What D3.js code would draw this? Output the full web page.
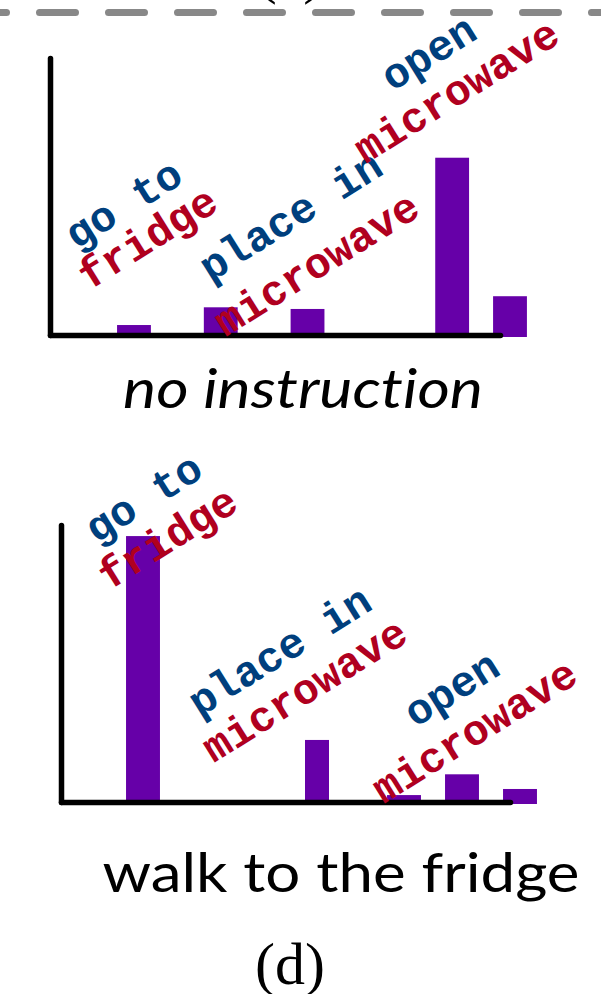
<!DOCTYPE html>
<html>
<head>
<meta charset="utf-8">
<script src="https://cdn.jsdelivr.net/npm/d3@7"></script>
<style>
  html, body { margin: 0; padding: 0; background: #fff; }
  svg { display: block; }
</style>
</head>
<body>
<div id="chart"></div>
<script>
// data
const slotsNoInstr = [3, 6, 9, 14, 16];
const probsNoInstr = [0.036, 0.1, 0.094, 0.64, 0.14];
const slotsFridge = [3, 9, 12, 14, 16];
const probsFridge = [0.96, 0.224, 0.025, 0.1, 0.047];
const actionTop = ['go to', 'place in', 'open'];
const actionBottom = ['fridge', 'microwave', 'microwave'];
const captions = ['no instruction', 'walk to the fridge'];
const panelTags = ['(c)', '(d)'];

const w = 601;
const h = 994;

const blue = '#003f7d';
const red = '#b0001f';
const purple = '#6600a8';

const svg = d3
	.select('#chart')
	.append('svg')
	.attr('width', w)
	.attr('height', h)
	.attr('viewBox', `0 0 ${w} ${h}`);

// separator from the panel above
svg
	.append('line')
	.attr('x1', 0)
	.attr('x2', w)
	.attr('y1', 12.5)
	.attr('y2', 12.5)
	.attr('stroke', '#888')
	.attr('stroke-width', 7)
	.attr('stroke-linecap', 'round')
	.attr('stroke-dasharray', '36 33')
	.attr('stroke-dashoffset', 29.5);

// bottom of the previous panel's tag, mostly above the frame
svg
	.append('text')
	.attr('x', 290)
	.attr('y', -8)
	.attr('text-anchor', 'middle')
	.style('font-family', '"Liberation Serif", serif')
	.style('font-size', '60px')
	.text(panelTags[0]);

const panels = [
	{
		slots: slotsNoInstr,
		probs: probsNoInstr,
		left: 50,
		right: 500,
		top: 58,
		base: 335,
		x0: 47.2,
		x16: 510,
		narrow: -1,
		labels: [
			[123, 203, 147, 237],
			[290, 215, 316, 263],
			[428, 52, 456, 90],
		],
		caption: {x: 303, y: 408, len: 360, italic: true},
	},
	{
		slots: slotsFridge,
		probs: probsFridge,
		left: 61,
		right: 510,
		top: 525,
		base: 802,
		x0: 56,
		x16: 520,
		narrow: 1,
		labels: [
			[143, 497, 167, 537],
			[279, 650, 304, 689],
			[451, 688, 474, 730],
		],
		caption: {x: 341, y: 892, len: 477, italic: false},
	},
];

panels.forEach((p, pi) => {
	const g = svg.append('g');

	const xScale = d3.scaleLinear().domain([0, 16]).range([p.x0, p.x16]);
	const yScale = d3.scaleLinear().domain([0, 1]).range([p.base, p.top]);
	const unit = xScale(1) - xScale(0);
	const barWidth = unit * 1.17;

	g.selectAll('rect')
		.data(p.slots.map((s, i) => ({slot: s, prob: p.probs[i], i})))
		.enter()
		.append('rect')
		.attr('x', d => xScale(d.slot) - (d.i === p.narrow ? 12 : barWidth / 2))
		.attr('width', d => (d.i === p.narrow ? 24 : barWidth))
		.attr('y', d => yScale(d.prob))
		.attr('height', d => yScale(0) - yScale(d.prob) + 2)
		.attr('fill', purple);

	// axes without ticks, thick black lines
	const xAxisScale = d3.scaleLinear().range([p.left, p.right]);
	const yAxisScale = d3.scaleLinear().range([p.base, p.top]);

	const xAxis = g
		.append('g')
		.attr('transform', `translate(0, ${p.base})`)
		.call(d3.axisBottom(xAxisScale).tickValues([]).tickSizeOuter(0));
	const yAxis = g
		.append('g')
		.attr('transform', `translate(${p.left}, 0)`)
		.call(d3.axisLeft(yAxisScale).tickValues([]).tickSizeOuter(0));

	[xAxis, yAxis].forEach(a =>
		a
			.select('.domain')
			.attr('stroke', '#000')
			.attr('stroke-width', 5.5)
			.attr('stroke-linecap', 'round')
	);

	// rotated action labels
	p.labels.forEach((pos, i) => {
		[
			[actionTop[i], pos[0], pos[1], blue],
			[actionBottom[i], pos[2], pos[3], red],
		].forEach(([txt, x, y, col]) => {
			g.append('text')
				.attr('transform', `translate(${x}, ${y}) rotate(-32)`)
				.attr('text-anchor', 'middle')
				.attr('dy', '0.35em')
				.attr('fill', col)
				.style('font-family', '"Liberation Mono", monospace')
				.style('font-weight', 'bold')
				.style('font-size', '43px')
				.text(txt);
		});
	});

	g.append('text')
		.attr('x', p.caption.x)
		.attr('y', p.caption.y)
		.attr('text-anchor', 'middle')
		.attr('textLength', p.caption.len)
		.attr('lengthAdjust', 'spacingAndGlyphs')
		.style('font-family', 'Lato, sans-serif')
		.style('font-style', p.caption.italic ? 'italic' : 'normal')
		.style('font-variant-ligatures', 'none')
		.style('font-size', '54px')
		.text(captions[pi]);
});

svg
	.append('text')
	.attr('x', 290)
	.attr('y', 984)
	.attr('text-anchor', 'middle')
	.style('font-family', '"Liberation Serif", serif')
	.style('font-size', '60px')
	.text(panelTags[1]);
</script>
</body>
</html>
